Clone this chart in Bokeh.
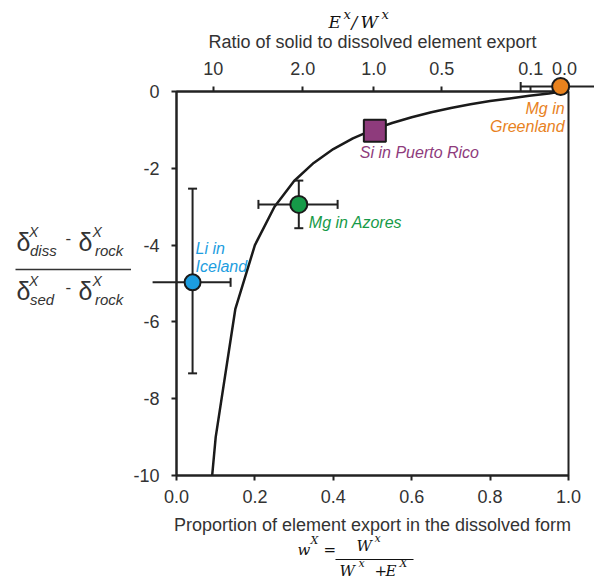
import math
from bokeh.plotting import figure
from bokeh.models import FixedTicker, LinearAxis, Label
from bokeh.core.properties import value
from bokeh.embed import file_html
from bokeh.resources import INLINE

# ---------------- data ----------------
bottom_ticks = [0.0, 0.2, 0.4, 0.6, 0.8, 1.0]
bottom_tick_labels = ["0.0", "0.2", "0.4", "0.6", "0.8", "1.0"]
left_ticks = [0, -2, -4, -6, -8, -10]
left_tick_labels = ["0", "-2", "-4", "-6", "-8", "-10"]
top_ticks = [0.094, 0.322, 0.503, 0.677, 0.904, 0.99]
top_tick_labels = ["10", "2.0", "1.0", "0.5", "0.1", "0.0"]

curve_w = [0.091, 0.10, 0.15, 0.20, 0.25, 0.30, 0.35, 0.40, 0.45, 0.50,
           0.55, 0.60, 0.65, 0.70, 0.75, 0.80, 0.85, 0.90, 0.95, 0.98]
curve_y = [-10.0, -9.0, -5.67, -4.0, -3.0, -2.33, -1.86, -1.5, -1.22, -1.0,
           -0.82, -0.67, -0.54, -0.43, -0.33, -0.25, -0.18, -0.11, -0.05, 0.0]

pt_names = ["Li in Iceland", "Mg in Azores", "Si in Puerto Rico", "Mg in Greenland"]
pt_w = [0.041, 0.312, 0.506, 0.98]
pt_y = [-4.97, -2.94, -1.02, 0.13]
pt_colors = ["#1c9de0", "#169a48", "#8e3b7c", "#e8821e"]

# horizontal error bars (Li, Azores, Greenland)
xerr_base = [-4.97, -2.94, 0.13]
xerr_lo = [-0.061, 0.209, 0.878]
xerr_hi = [0.138, 0.411, 1.10]
# vertical error bars (Li, Azores)
yerr_base = [0.041, 0.312]
yerr_lo = [-7.34, -3.56]
yerr_hi = [-2.53, -2.32]

# -------------- figure ---------------
W, H = 594, 580
p = figure(width=W, height=H, x_range=(0, 1), y_range=(-10, 0),
           output_backend="svg", toolbar_location=None,
           min_border_left=176, min_border_right=26,
           min_border_top=91, min_border_bottom=105,
           background_fill_color="white", border_fill_color="white")
p.grid.visible = False
p.outline_line_color = "#222222"
p.outline_line_width = 2

AX = "#222222"
TXT = "#333333"
SANS = "Liberation Sans"
SERIF = "DejaVu Serif"


def style_axis(ax):
    ax.axis_line_color = AX
    ax.axis_line_width = 2
    ax.major_tick_line_color = AX
    ax.major_tick_line_width = 2
    ax.major_tick_in = 0
    ax.major_tick_out = 5
    ax.minor_tick_in = 0
    ax.minor_tick_out = 0
    ax.major_label_text_font = SANS
    ax.major_label_text_font_size = "18px"
    ax.major_label_text_color = TXT
    ax.axis_label_text_font = SANS
    ax.axis_label_text_font_size = "18px"
    ax.axis_label_text_font_style = "normal"
    ax.axis_label_text_color = TXT


xb = p.xaxis[0]
style_axis(xb)
xb.ticker = FixedTicker(ticks=bottom_ticks)
xb.major_label_overrides = dict(zip(bottom_ticks, bottom_tick_labels))
xb.major_label_standoff = 9
xb.axis_label = "Proportion of element export in the dissolved form"
xb.axis_label_standoff = 9

yl = p.yaxis[0]
style_axis(yl)
yl.ticker = FixedTicker(ticks=left_ticks)
yl.major_label_overrides = dict(zip(left_ticks, left_tick_labels))
yl.major_label_standoff = 12

xt = LinearAxis(ticker=FixedTicker(ticks=top_ticks))
style_axis(xt)
xt.major_label_overrides = dict(zip(top_ticks, top_tick_labels))
xt.major_label_standoff = 12
xt.axis_label = "Ratio of solid to dissolved element export"
xt.axis_label_standoff = 7
p.add_layout(xt, "above")

# theoretical curve
p.line(curve_w, curve_y, line_color="#1a1a1a", line_width=2.5)

# error bars (overlay level so they are not cut at the frame)
p.segment(x0=xerr_lo, y0=xerr_base, x1=xerr_hi, y1=xerr_base,
          line_color=AX, line_width=2, level="overlay")
p.scatter(x=xerr_lo + xerr_hi, y=xerr_base + xerr_base, marker="dash",
          angle=math.pi / 2, size=9, line_color=AX, line_width=2, level="overlay")
p.segment(x0=yerr_base, y0=yerr_lo, x1=yerr_base, y1=yerr_hi,
          line_color=AX, line_width=2, level="overlay")
p.scatter(x=yerr_base + yerr_base, y=yerr_lo + yerr_hi, marker="dash",
          size=9, line_color=AX, line_width=2, level="overlay")

# markers
circ_idx = [0, 1, 3]
p.scatter([pt_w[i] for i in circ_idx], [pt_y[i] for i in circ_idx],
          marker="circle", size=[16, 17, 17],
          fill_color=[pt_colors[i] for i in circ_idx],
          line_color="#1a1a1a", line_width=2, level="overlay")
p.scatter([pt_w[2]], [pt_y[2]], marker="square", size=22,
          fill_color=pt_colors[2], line_color="#1a1a1a", line_width=2,
          level="overlay")

# point labels (offsets in pixels from each point)
lab_specs = [
    (0, "Li in", 3, 34, "left"), (0, "Iceland", 3, 16, "left"),
    (1, "Mg in Azores", 10, -18, "left"),
    (2, "Si in Puerto Rico", -15, -22, "left"),
    (3, "Mg in", 4, -22, "right"), (3, "Greenland", 4, -40, "right"),
]
for i, t, ox, oy, al in lab_specs:
    p.add_layout(Label(x=pt_w[i], y=pt_y[i], x_offset=ox, y_offset=oy, text=t,
                       text_font=SANS, text_font_size="16px",
                       text_font_style="italic", text_color=pt_colors[i],
                       text_align=al, text_baseline="alphabetic"))


# ---------- free text (positions given in page pixels) ----------
def X(ix):
    return (ix - 176.0) / 392.0


def Y(iy):
    return (91.0 - iy) / 38.4


def txt(ix, iy, t, size, font=SANS, style="normal", color=TXT, align="left"):
    p.text(x=[X(ix)], y=[Y(iy)], text=[t], text_font=value(font),
           text_font_size=value(size), text_font_style=style,
           text_color=color, text_align=align, text_baseline="alphabetic",
           level="overlay")


def bar(ix0, ix1, iy, width=1.5, color=TXT):
    p.segment(x0=[X(ix0)], y0=[Y(iy)], x1=[X(ix1)], y1=[Y(iy)],
              line_color=color, line_width=width, level="overlay")


# left fraction label
for base_y, sub1 in ((241, "diss"), (290, "sed")):
    txt(16, base_y, "δ", "25px")
    txt(28.5, base_y - 10, "X", "14px", style="italic")
    txt(29.5, base_y + 9, sub1, "15px", style="italic")
    txt(65, base_y - 4, "-", "17px")
    txt(78, base_y, "δ", "25px")
    txt(92, base_y - 10, "X", "14px", style="italic")
    txt(94.5, base_y + 9, "rock", "15px", style="italic")
bar(15, 130.5, 269)

# top formula  E^x / W^x
INK = "#111111"
txt(328, 21, "E", "17px", font=SERIF, style="italic", color=INK)
txt(343, 14, "x", "13px", font=SERIF, style="italic", color=INK)
txt(351, 21, "/", "17px", font=SERIF, style="italic", color=INK)
txt(360, 21, "W", "17px", font=SERIF, style="italic", color=INK)
txt(381, 14, "x", "13px", font=SERIF, style="italic", color=INK)

# bottom formula  w^X = W^x / (W^x + E^X)
txt(297, 549, "w", "15px", font=SERIF, style="italic", color=INK)
txt(310, 540, "X", "11px", font=SERIF, style="italic", color=INK)
txt(323, 549, "=", "15px", font=SERIF, color=INK)
txt(356, 545, "W", "15px", font=SERIF, style="italic", color=INK)
txt(374, 538, "x", "11px", font=SERIF, style="italic", color=INK)
bar(335, 413, 559, width=1.2, color=INK)
txt(339, 570, "W", "15px", font=SERIF, style="italic", color=INK)
txt(358, 563, "x", "11px", font=SERIF, style="italic", color=INK)
txt(374, 570, "+", "15px", font=SERIF, color=INK)
txt(385, 570, "E", "15px", font=SERIF, style="italic", color=INK)
txt(399, 563, "X", "11px", font=SERIF, style="italic", color=INK)

open("out.html", "w").write(file_html(p, INLINE))
